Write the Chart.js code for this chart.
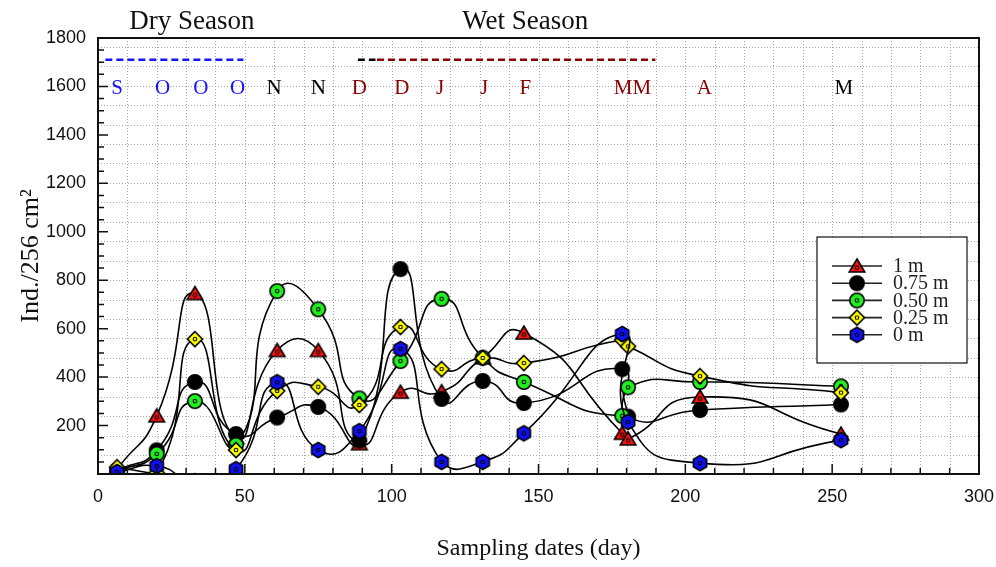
<!DOCTYPE html>
<html>
<head>
<meta charset="utf-8">
<script src="https://cdn.jsdelivr.net/npm/chart.js@4/dist/chart.umd.min.js"></script>
<style>
  body { margin: 0; background: #fff; }
</style>
</head>
<body>
<canvas id="grafico" width="996" height="567"></canvas>
<script>
// sampling days (x) and abundance per depth (Ind./256 cm2)
const days = [6.5, 20, 33, 47, 61, 75, 89, 103, 117, 131, 145, 178.5, 180.5, 205, 253];
const depth1m   = [20, 240, 745, 150, 510, 510, 125, 338, 340, 480, 582, 168, 145, 318, 165];
const depth075m = [15, 98, 380, 165, 233, 277, 138, 846, 310, 384, 293, 433, 237, 264, 287];
const depth050m = [12, 83, 301, 120, 755, 680, 312, 466, 723, 480, 380, 240, 358, 380, 362];
const depth025m = [28, 5, 557, 99, 343, 360, 285, 607, 433, 479, 458, 553, 527, 404, 336];
const depth0m   = [8, 33, -30, 20, 379, 99, 177, 516, 50, 50, 168, 578, 215, 45, 140];
const seriesNames = ['1 m', '0.75 m', '0.50 m', '0.25 m', '0 m'];

// month letters along the top and the season bars
const monthLabels = ['S', 'O', 'O', 'O', 'N', 'N', 'D', 'D', 'J', 'J', 'F', 'MM', 'A', 'M'];
const monthDays = [6.5, 22, 35, 47.5, 60, 75, 89, 103.5, 116.5, 131.5, 145.5, 182, 206.5, 254];
const monthColors = ['#1414ff', '#1414ff', '#1414ff', '#1414ff', '#000', '#000',
  '#8b0000', '#8b0000', '#8b0000', '#8b0000', '#8b0000', '#8b0000', '#8b0000', '#000'];
const seasonNames = ['Dry Season', 'Wet Season'];
const seasonDays = [32, 145.5];
const dryBar = [2.5, 49.5];
const wetBarBlack = [88.5, 94.5];
const wetBarRed = [95, 189.8];
const barLevel = 1710;

const xTicks = { min: 0, max: 300, step: 10, labelEvery: 50 };
const yTicks = { min: 0, max: 1800, step: 50, labelEvery: 200 };

function makeMarker(shape, fill, dot) {
    const c = document.createElement('canvas');
    c.width = 20; c.height = 20;
    const g = c.getContext('2d');
    g.translate(10, 10);
    g.lineWidth = 1.6;
    g.strokeStyle = '#000';
    g.fillStyle = fill;
    g.beginPath();
    let cy = 0;
    if (shape === 'triangle') {
        g.moveTo(0, -7); g.lineTo(7.8, 6); g.lineTo(-7.8, 6); g.closePath();
        cy = 1.6;
    } else if (shape === 'circle') {
        g.arc(0, 0, 7.2, 0, Math.PI * 2);
    } else if (shape === 'diamond') {
        g.moveTo(0, -7.5); g.lineTo(7.5, 0); g.lineTo(0, 7.5); g.lineTo(-7.5, 0); g.closePath();
    } else {
        for (let i = 0; i < 6; i++) {
            const a = -Math.PI / 2 + i * Math.PI / 3;
            const px = 7.6 * Math.cos(a), py = 7.6 * Math.sin(a);
            if (i === 0) g.moveTo(px, py); else g.lineTo(px, py);
        }
        g.closePath();
    }
    g.fill();
    g.stroke();
    if (dot) {
        g.beginPath();
        g.lineWidth = 1.1;
        g.arc(0, cy, 1.8, 0, Math.PI * 2);
        g.stroke();
    }
    return c;
}

const markers = [
    makeMarker('triangle', '#ff1010', true),
    makeMarker('circle', '#000', false),
    makeMarker('circle', '#22ee22', true),
    makeMarker('diamond', '#ffff00', true),
    makeMarker('hexagon', '#1010ee', true)
];
const seriesData = [depth1m, depth075m, depth050m, depth025m, depth0m];
const drawOrder = [4, 3, 2, 1, 0];

function toPoints(values) {
    return values.map((v, i) => ({ x: days[i], y: v }));
}

const datasets = seriesData.map((vals, k) => ({
    label: seriesNames[k],
    data: toPoints(vals),
    borderColor: '#000',
    borderWidth: 1.6,
    pointStyle: markers[k],
    pointRadius: 7,
    tension: 0.6,
    order: drawOrder[k]
}));

function barSet(range, color) {
    return {
        label: '',
        data: [{ x: range[0], y: barLevel }, { x: range[1], y: barLevel }],
        borderColor: color,
        borderWidth: 2.5,
        borderDash: [7, 4],
        pointRadius: 0,
        tension: 0,
        order: 10
    };
}
datasets.push(barSet(dryBar, '#1414ff'), barSet(wetBarBlack, '#000'), barSet(wetBarRed, '#8b0000'));

const dottedGrid = {
    id: 'dottedGrid',
    beforeDatasetsDraw(chart) {
        const { ctx, chartArea: a, scales: { x } } = chart;
        ctx.save();
        ctx.strokeStyle = '#a8a8a8';
        ctx.lineWidth = 1;
        ctx.setLineDash([1, 2]);
        for (let v = xTicks.min + xTicks.step; v < xTicks.max; v += xTicks.step) {
            const px = Math.round(x.getPixelForValue(v)) + 0.5;
            ctx.beginPath(); ctx.moveTo(px, a.top); ctx.lineTo(px, a.bottom); ctx.stroke();
        }
        for (let py = a.top + 8.7; py < a.bottom - 4; py += 19.45) {
            const yy = Math.round(py) + 0.5;
            ctx.beginPath(); ctx.moveTo(a.left, yy); ctx.lineTo(a.right, yy); ctx.stroke();
        }
        ctx.restore();
    }
};

const frameTicks = {
    id: 'frameTicks',
    afterDatasetsDraw(chart) {
        const { ctx, chartArea: a, scales: { x, y } } = chart;
        ctx.save();
        ctx.strokeStyle = '#111';
        ctx.lineWidth = 2;
        ctx.strokeRect(a.left, a.top, a.right - a.left, a.bottom - a.top);
        ctx.lineWidth = 1.5;
        ctx.beginPath();
        for (let v = xTicks.min; v <= xTicks.max; v += xTicks.step) {
            const px = x.getPixelForValue(v);
            const major = v % xTicks.labelEvery === 0;
            ctx.moveTo(px, a.bottom);
            ctx.lineTo(px, a.bottom - (major ? 10 : 6));
        }
        for (let v = yTicks.min; v <= yTicks.max; v += yTicks.step) {
            const py = y.getPixelForValue(v);
            const major = v % yTicks.labelEvery === 0;
            ctx.moveTo(a.left, py);
            ctx.lineTo(a.left + (major ? 10 : 6), py);
        }
        ctx.stroke();
        ctx.restore();
    }
};

const annotations = {
    id: 'annotations',
    afterDraw(chart) {
        const { ctx, chartArea: a, scales: { x, y } } = chart;
        ctx.save();
        ctx.textAlign = 'center';
        ctx.textBaseline = 'middle';
        ctx.fillStyle = '#111';
        ctx.font = '27px "Liberation Serif"';
        seasonNames.forEach((s, i) => ctx.fillText(s, x.getPixelForValue(seasonDays[i]), a.top - 16));

        ctx.font = '21px "Liberation Serif"';
        const my = y.getPixelForValue(1590);
        monthLabels.forEach((m, i) => {
            ctx.fillStyle = monthColors[i];
            ctx.fillText(m, x.getPixelForValue(monthDays[i]), my);
        });

        // legend box
        const bx = a.right - 162, by = a.top + 199, bw = 150, bh = 126;
        ctx.fillStyle = '#fff';
        ctx.fillRect(bx, by, bw, bh);
        ctx.strokeStyle = '#111';
        ctx.lineWidth = 1.2;
        ctx.strokeRect(bx, by, bw, bh);
        ctx.font = '20px "Liberation Serif"';
        ctx.textAlign = 'left';
        seriesNames.forEach((name, k) => {
            const ry = by + 29 + k * 17.2;
            ctx.strokeStyle = '#222';
            ctx.lineWidth = 1.6;
            ctx.beginPath(); ctx.moveTo(bx + 15, ry); ctx.lineTo(bx + 65, ry); ctx.stroke();
            const m = markers[k];
            ctx.drawImage(m, bx + 40 - m.width / 2, ry - m.height / 2);
            ctx.fillStyle = '#222';
            ctx.fillText(name, bx + 76, ry + 1);
        });
        ctx.restore();
    }
};

const ctx = document.getElementById('grafico').getContext('2d');
const chart = new Chart(ctx, {
    type: 'line',
    data: { datasets: datasets },
    options: {
        responsive: false,
        animation: false,
        layout: { padding: { top: 38, right: 17, left: 0, bottom: 0 } },
        plugins: {
            legend: { display: false },
            tooltip: { enabled: false }
        },
        scales: {
            x: {
                type: 'linear',
                min: xTicks.min,
                max: xTicks.max,
                afterFit: s => { s.height = 93; s.paddingLeft = 0; s.paddingRight = 0; },
                grid: { display: false, drawTicks: false },
                border: { display: false },
                ticks: {
                    stepSize: xTicks.step,
                    autoSkip: false,
                    maxRotation: 0,
                    padding: 12,
                    color: '#111',
                    font: { family: 'Liberation Sans', size: 18 },
                    callback: v => (v % xTicks.labelEvery === 0 ? v : '')
                },
                title: {
                    display: true,
                    text: 'Sampling dates (day)',
                    color: '#111',
                    font: { family: 'Liberation Serif', size: 24 },
                    padding: { top: 0, bottom: 4 }
                }
            },
            y: {
                min: yTicks.min,
                max: yTicks.max,
                afterFit: s => { s.width = 98; },
                grid: { display: false, drawTicks: false },
                border: { display: false },
                ticks: {
                    stepSize: yTicks.step,
                    autoSkip: false,
                    padding: 12,
                    color: '#111',
                    font: { family: 'Liberation Sans', size: 18 },
                    callback: v => (v % yTicks.labelEvery === 0 && v !== 0 ? v : '')
                },
                title: {
                    display: true,
                    text: 'Ind./256 cm²',
                    color: '#111',
                    font: { family: 'Liberation Serif', size: 26 },
                    padding: { top: 16, bottom: 0 }
                }
            }
        }
    },
    plugins: [dottedGrid, frameTicks, annotations]
});
</script>
</body>
</html>
